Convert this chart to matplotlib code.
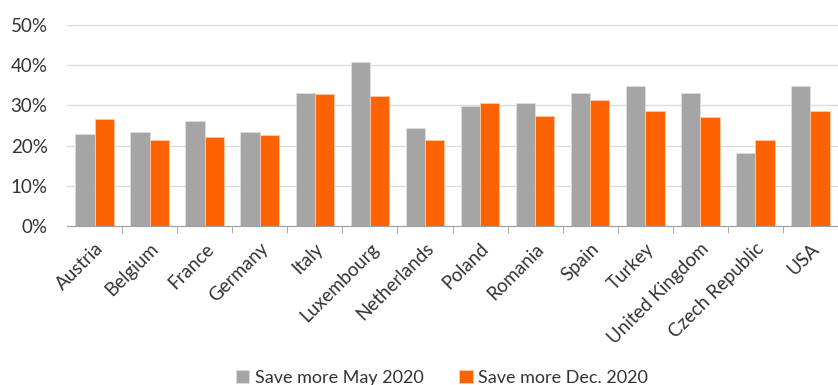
import numpy as np
import matplotlib
matplotlib.use("Agg")
import matplotlib.pyplot as plt
from matplotlib.ticker import PercentFormatter

countries = ["Austria", "Belgium", "France", "Germany", "Italy", "Luxembourg",
             "Netherlands", "Poland", "Romania", "Spain", "Turkey",
             "United Kingdom", "Czech Republic", "USA"]
may_2020 = [23.0, 23.5, 26.0, 23.5, 33.0, 40.8, 24.3, 29.8, 30.7, 33.0, 34.8, 33.2, 18.2, 34.8]
dec_2020 = [26.6, 21.3, 22.1, 22.7, 32.8, 32.3, 21.5, 30.5, 27.3, 31.4, 28.6, 27.0, 21.5, 28.6]
yticks = [0, 10, 20, 30, 40, 50]

GREY = "#A5A5A5"; ORANGE = "#FF6200"; INK = "#333333"
plt.rcParams["font.family"] = ["Lato", "DejaVu Sans"]

fig = plt.figure(figsize=(8.38, 3.85), dpi=100)
W, H = 838, 385
ax = fig.add_axes([67 / W, 1 - 226 / H, 771 / W, 201 / H])

x = np.arange(len(countries))
bw = 0.35
ax.bar(x - bw / 2, may_2020, bw, color=GREY, edgecolor="#DDDDDD", linewidth=0.6,
       label="Save more May 2020", zorder=3)
ax.bar(x + bw / 2, dec_2020, bw, color=ORANGE, edgecolor="#FFC9A8", linewidth=0.6,
       label="Save more Dec. 2020", zorder=3)

ax.set_ylim(0, 50)
ax.set_yticks(yticks)
ax.yaxis.set_major_formatter(PercentFormatter(decimals=0))
ax.set_xlim(-0.5, -0.5 + 771 / 55.5)
ax.grid(axis="y", color="#DCDCDC", lw=1, zorder=0)
for s in ["top", "right", "left"]:
    ax.spines[s].set_visible(False)
ax.spines["bottom"].set_color("#A0A0A0")
ax.tick_params(axis="y", length=0, labelsize=13.5, labelcolor=INK, pad=14)

ax.set_xticks(x)
ax.set_xticklabels(countries, rotation=45, ha="right", rotation_mode="anchor",
                   fontsize=13.5, color=INK)
ax.tick_params(axis="x", which="major", length=0, pad=10)
ax.set_xticks(np.arange(len(countries)) + 0.5, minor=True)
ax.tick_params(axis="x", which="minor", length=5, color="#A0A0A0")

fig.legend(loc="lower center", bbox_to_anchor=(442 / W, -0.045), ncol=2,
           frameon=False, fontsize=13, handlelength=0.75, handleheight=0.75,
           handletextpad=0.3, columnspacing=2.0, labelcolor=INK)

fig.savefig("out.png", dpi=100)
